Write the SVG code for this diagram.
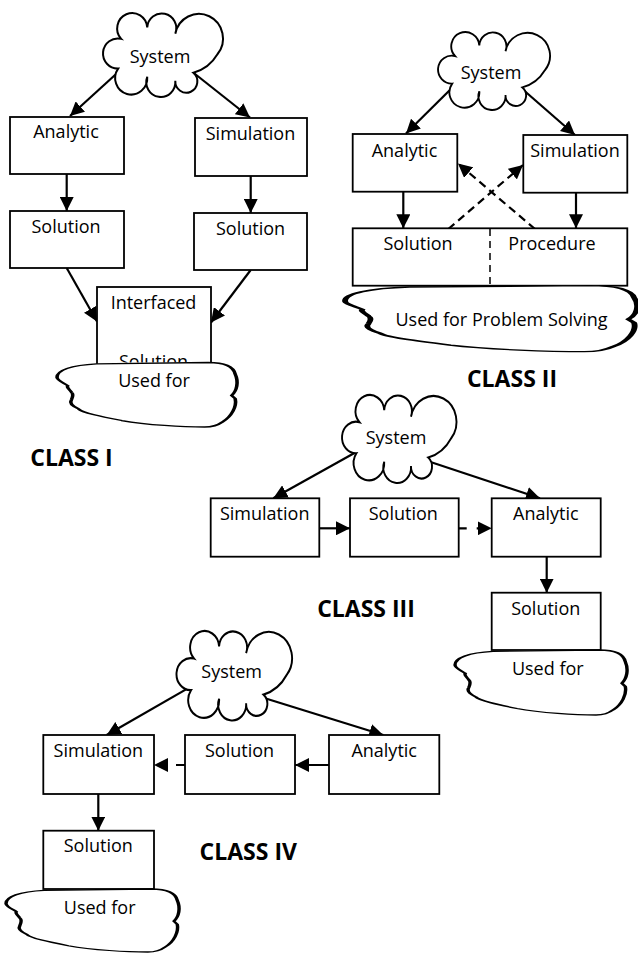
<svg xmlns="http://www.w3.org/2000/svg" width="638" height="953" viewBox="0 0 638 953">
<style>
.box{fill:#fff;stroke:#000;stroke-width:1.8}
.cloud{fill:#fff;stroke:#000;stroke-width:2;vector-effect:non-scaling-stroke}
.t{font-family:"Open Sans","Noto Sans","Liberation Sans",sans-serif;font-size:18px;fill:#000;text-anchor:middle}
.h{font-family:"Open Sans","Noto Sans","Liberation Sans",sans-serif;font-size:23px;font-weight:bold;fill:#000;text-anchor:middle}
.c{fill:none;stroke:#000;stroke-width:2.2;marker-end:url(#ah)}
.d{stroke-dasharray:8 5}
.div{stroke:#000;stroke-width:1.5;stroke-dasharray:7 5}
</style>
<defs>
<marker id="ah" markerUnits="userSpaceOnUse" markerWidth="14" markerHeight="14" refX="14" refY="7" orient="auto">
<path d="M0,0 L14,7 L0,14 Z" fill="#000"/>
</marker>
<clipPath id="clipI"><rect x="97" y="287" width="114" height="75.5"/></clipPath>
<path id="sys" d="M16,27 A15,15 0 1 1 42,16 A14.5,14.5 0 1 1 70,22 A24,24 0 1 1 112,42 A40,40 0 0 1 88,60 A11,11 0 1 1 70,68 A14.5,14.5 0 1 1 42,64 A16,16 0 1 1 13,56 A14.7,14.7 0 1 1 16,27 Z"/>
<path id="used" d="M0,23 C0,12 8,4 22,2 L84,0 C93,0 98,6 99,18 C101,30 100,44 97,51 L99,56 C100,68 97,84 92,92 C89,98 86,100 82,100 C70,100 50,97 36,90 C25,84 14,78 12,72 C8,67 7,62 8,58 C9,52 9,48 8,46 C7,42 5,38 6,36 C4,32 0,28 0,23 Z"/>
</defs>

<g id="connectors">
<!-- Class I -->
<path class="c" d="M126,65 L70,116"/>
<path class="c" d="M190,70 L250,117.5"/>
<path class="c" d="M66.7,174 L66.7,211"/>
<path class="c" d="M250.7,176 L250.7,213"/>
<path class="c" d="M66.7,268 L97,321.5"/>
<path class="c" d="M250.7,270 L211,322.5"/>
<!-- Class II -->
<path class="c" d="M460,80 L406,133.5"/>
<path class="c" d="M520,87 L575,135"/>
<path class="c" d="M403.3,192 L403.3,228.3"/>
<path class="c" d="M576,193 L576,228.3"/>
<path class="c d" d="M535,229 L458,163.5"/>
<path class="c d" d="M448.3,229 L523,165"/>
<!-- Class III -->
<path class="c" d="M367,446 L273.3,498.3"/>
<path class="c" d="M420,458.5 L540,498.3"/>
<path class="c" d="M319.3,528.3 L350,528.3"/>
<path class="c" d="M458.7,528.3 L491.7,528.3" stroke-dasharray="8 10"/>
<path class="c" d="M546.7,556.7 L546.7,592.7"/>
<!-- Class IV -->
<path class="c" d="M203,679.6 L106.7,735"/>
<path class="c" d="M265,698.3 L383.3,735"/>
<path class="c" d="M329,765 L295,765"/>
<path class="c" d="M185,765 L154,765" stroke-dasharray="9 9"/>
<path class="c" d="M98.3,794 L98.3,830.7"/>
</g>

<!-- CLASS I -->
<g id="c1-system">
<use href="#sys" class="cloud" transform="translate(105.1,11.15) scale(1.003,1.026)"/>
<text class="t" x="160" y="63">System</text>
</g>
<g id="c1-analytic">
<rect class="box" x="10" y="117" width="114" height="57"/>
<text class="t" x="66" y="138">Analytic</text>
</g>
<g id="c1-simulation">
<rect class="box" x="195" y="118" width="112" height="58"/>
<text class="t" x="250.5" y="140">Simulation</text>
</g>
<g id="c1-solution-a">
<rect class="box" x="10" y="211" width="114" height="57"/>
<text class="t" x="66" y="233">Solution</text>
</g>
<g id="c1-solution-s">
<rect class="box" x="194" y="213" width="113" height="57"/>
<text class="t" x="250.5" y="235">Solution</text>
</g>
<g id="c1-interfaced">
<rect class="box" x="97" y="287" width="114" height="85"/>
<text class="t" x="153.5" y="309">Interfaced</text>
<text class="t" x="153.5" y="368" clip-path="url(#clipI)">Solution</text>
</g>
<g id="c1-used">
<use href="#used" class="cloud" transform="translate(57,362.5) scale(1.8,0.645)"/>
<text class="t" x="154" y="387">Used for</text>
</g>
<g id="c1-label">
<text class="h" x="71.5" y="466">CLASS I</text>
</g>

<!-- CLASS II -->
<g id="c2-system">
<use href="#sys" class="cloud" transform="translate(440,30.3) scale(0.936,0.952)"/>
<text class="t" x="491" y="79">System</text>
</g>
<g id="c2-analytic">
<rect class="box" x="352.7" y="134" width="104.6" height="57.7"/>
<text class="t" x="404.5" y="157">Analytic</text>
</g>
<g id="c2-simulation">
<rect class="box" x="523.3" y="135" width="104" height="57.7"/>
<text class="t" x="575" y="157">Simulation</text>
</g>
<g id="c2-solution-procedure">
<rect class="box" x="352.7" y="228.3" width="274.6" height="57.4"/>
<line class="div" x1="490" y1="229" x2="490" y2="285"/>
<text class="t" x="418" y="250">Solution</text>
<text class="t" x="552" y="250">Procedure</text>
</g>
<g id="c2-used">
<use href="#used" class="cloud" transform="translate(345,285.7) scale(2.92,0.66)"/>
<text class="t" x="501.5" y="326">Used for Problem Solving</text>
</g>
<g id="c2-label">
<text class="h" x="512" y="386.5">CLASS II</text>
</g>

<!-- CLASS III -->
<g id="c3-system">
<use href="#sys" class="cloud" transform="translate(344,393.1) scale(0.957,1.074)"/>
<text class="t" x="396" y="444">System</text>
</g>
<g id="c3-simulation">
<rect class="box" x="210.7" y="498.3" width="108.6" height="58.4"/>
<text class="t" x="264.7" y="520">Simulation</text>
</g>
<g id="c3-solution">
<rect class="box" x="350" y="498.3" width="108.7" height="58.4"/>
<text class="t" x="403.3" y="520">Solution</text>
</g>
<g id="c3-analytic">
<rect class="box" x="491.7" y="498.3" width="109" height="58.4"/>
<text class="t" x="545.8" y="520">Analytic</text>
</g>
<g id="c3-solution2">
<rect class="box" x="491.7" y="592.7" width="109" height="57.3"/>
<text class="t" x="545.7" y="615">Solution</text>
</g>
<g id="c3-used">
<use href="#used" class="cloud" transform="translate(455,650) scale(1.72,0.65)"/>
<text class="t" x="547.8" y="675">Used for</text>
</g>
<g id="c3-label">
<text class="h" x="366" y="617.3">CLASS III</text>
</g>

<!-- CLASS IV -->
<g id="c4-system">
<use href="#sys" class="cloud" transform="translate(178.5,629) scale(0.966,1.093)"/>
<text class="t" x="231.7" y="678.3">System</text>
</g>
<g id="c4-simulation">
<rect class="box" x="43.3" y="735" width="110.7" height="59"/>
<text class="t" x="98.3" y="757">Simulation</text>
</g>
<g id="c4-solution">
<rect class="box" x="185" y="735" width="110" height="59"/>
<text class="t" x="239.5" y="757">Solution</text>
</g>
<g id="c4-analytic">
<rect class="box" x="329" y="735" width="110.3" height="59"/>
<text class="t" x="384.2" y="757">Analytic</text>
</g>
<g id="c4-solution2">
<rect class="box" x="43.3" y="830.7" width="110.7" height="58.3"/>
<text class="t" x="98.3" y="852">Solution</text>
</g>
<g id="c4-used">
<use href="#used" class="cloud" transform="translate(6,889) scale(1.73,0.63)"/>
<text class="t" x="99.7" y="914">Used for</text>
</g>
<g id="c4-label">
<text class="h" x="248.3" y="860">CLASS IV</text>
</g>
</svg>
